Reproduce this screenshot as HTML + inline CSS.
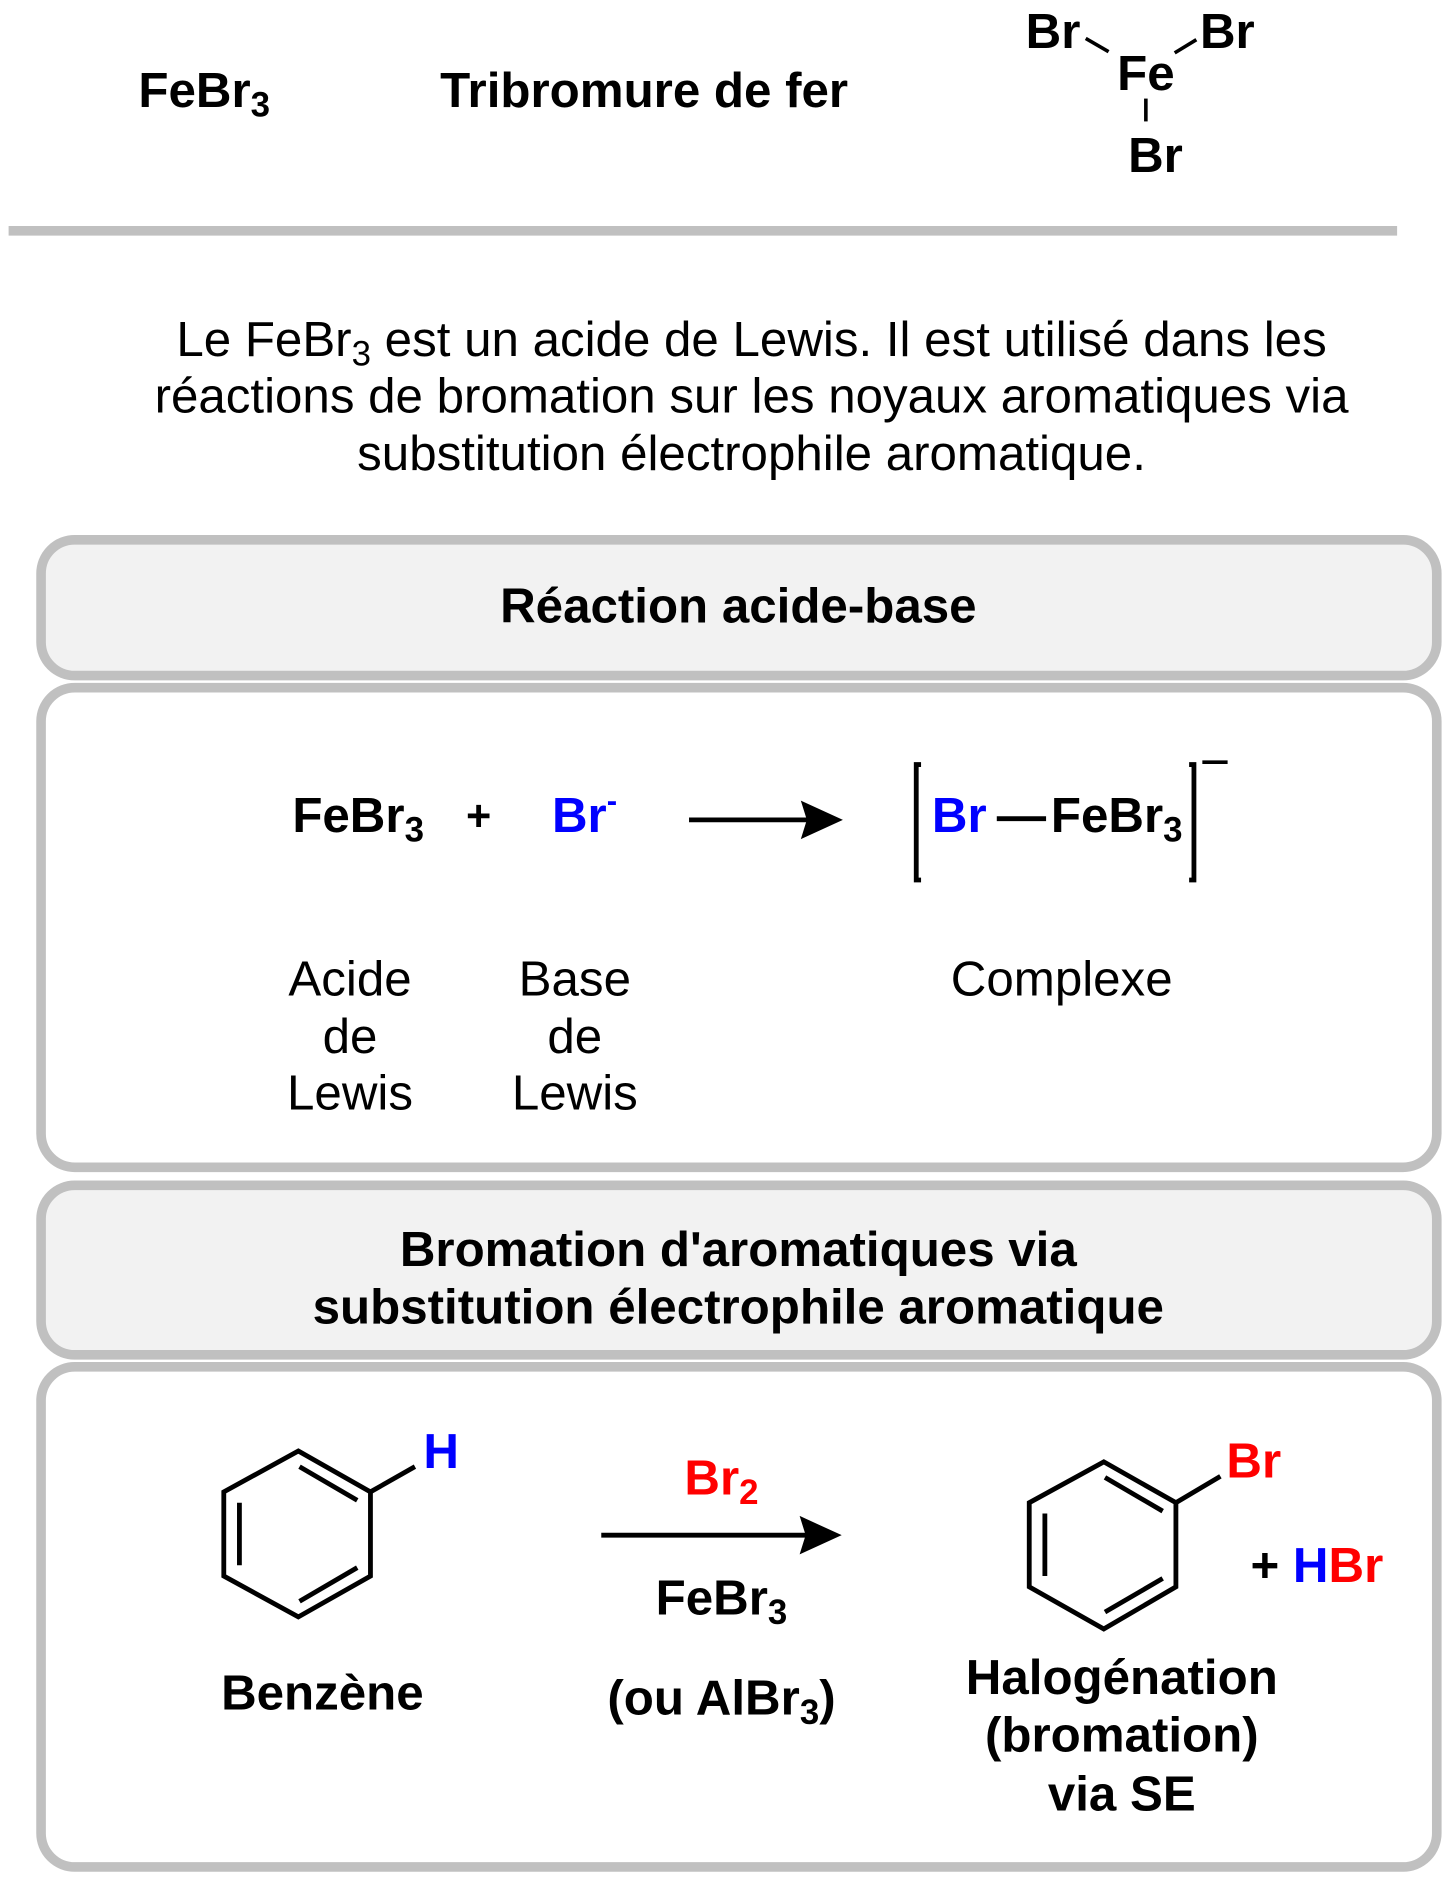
<!DOCTYPE html>
<html><head><meta charset="utf-8"><style>
html,body{margin:0;padding:0;background:#fff}
svg{display:block}
text{font-family:"Liberation Sans",Arial,sans-serif}
.b{font-weight:bold}
</style></head><body>
<svg width="1455" height="1885" viewBox="0 0 1210 1568" xmlns="http://www.w3.org/2000/svg">
<!-- top -->
<text x="115" y="89" class="b" font-size="41">FeBr<tspan font-size="29" dy="8">3</tspan></text>
<text x="366" y="89" class="b" font-size="41">Tribromure de fer</text>
<text x="853" y="40" class="b" font-size="41">Br</text>
<text x="998" y="40" class="b" font-size="41">Br</text>
<text x="953" y="75" class="b" font-size="41" text-anchor="middle">Fe</text>
<text x="961" y="143" class="b" font-size="41" text-anchor="middle">Br</text>
<line x1="903" y1="32" x2="922" y2="43" stroke="#000" stroke-width="3"/>
<line x1="977" y1="44" x2="995" y2="33" stroke="#000" stroke-width="3"/>
<line x1="953" y1="82" x2="953" y2="101" stroke="#000" stroke-width="3"/>
<rect x="7" y="188" width="1155" height="8" fill="#c0c0c0"/>
<g font-size="41" text-anchor="middle">
<text x="625" y="296">Le FeBr<tspan font-size="29" dy="8">3</tspan><tspan dy="-8"> est un acide de Lewis. Il est utilisé dans les</tspan></text>
<text x="625" y="343">réactions de bromation sur les noyaux aromatiques via</text>
<text x="625" y="391">substitution électrophile aromatique.</text>
</g>
<!-- boxes -->
<g stroke="#c0c0c0" stroke-width="8">
<rect x="34" y="449" width="1161" height="113" rx="28" fill="#f2f2f2"/>
<rect x="34" y="572" width="1161" height="399" rx="28" fill="#fff"/>
<rect x="34" y="986" width="1161" height="141" rx="28" fill="#f2f2f2"/>
<rect x="34" y="1137" width="1161" height="416" rx="28" fill="#fff"/>
</g>
<text x="614" y="518" class="b" font-size="41" text-anchor="middle">Réaction acide-base</text>
<!-- reaction 1 -->
<text x="243" y="692" class="b" font-size="41">FeBr<tspan font-size="29" dy="8">3</tspan></text>
<text x="398" y="691" class="b" font-size="36" text-anchor="middle">+</text>
<text x="459" y="692" class="b" font-size="41" fill="#0000ff">Br<tspan font-size="26" dy="-17">-</tspan></text>
<line x1="573" y1="682" x2="680" y2="682" stroke="#000" stroke-width="4"/>
<path d="M666,666 L701,682 L666,698 L671,682 Z" fill="#000"/>
<path d="M766,636 L762,636 L762,732 L766,732" fill="none" stroke="#000" stroke-width="4"/>
<text x="775" y="692" class="b" font-size="41" fill="#0000ff">Br</text>
<line x1="829" y1="681" x2="870" y2="681" stroke="#000" stroke-width="4"/>
<text x="874" y="692" class="b" font-size="41">FeBr<tspan font-size="29" dy="8">3</tspan></text>
<path d="M989,636 L993,636 L993,732 L989,732" fill="none" stroke="#000" stroke-width="4"/>
<line x1="1000" y1="634" x2="1021" y2="634" stroke="#000" stroke-width="3"/>
<g font-size="41" text-anchor="middle">
<text x="291" y="828">Acide</text><text x="291" y="876">de</text><text x="291" y="923">Lewis</text>
<text x="478" y="828">Base</text><text x="478" y="876">de</text><text x="478" y="923">Lewis</text>
<text x="883" y="828">Complexe</text>
</g>
<g class="b" font-size="41" text-anchor="middle">
<text x="614" y="1053">Bromation d'aromatiques via</text>
<text x="614" y="1101">substitution électrophile aromatique</text>
</g>
<!-- benzene 1 -->
<g stroke="#000" stroke-width="4" fill="none">
<polygon points="248,1207 308,1241 308,1311 248,1345 186,1311 186,1241"/>
<line x1="249" y1="1220" x2="297" y2="1248"/>
<line x1="297" y1="1304" x2="249" y2="1332"/>
<line x1="199" y1="1250" x2="199" y2="1302"/>
<line x1="308" y1="1241" x2="345" y2="1220"/>
</g>
<text x="352" y="1221" class="b" font-size="41" fill="#0000ff">H</text>
<text x="268" y="1422" class="b" font-size="41" text-anchor="middle">Benzène</text>
<!-- arrow 2 -->
<line x1="500" y1="1277" x2="680" y2="1277" stroke="#000" stroke-width="4"/>
<path d="M665,1261 L700,1277 L665,1293 L670,1277 Z" fill="#000"/>
<text x="600" y="1243" class="b" font-size="41" fill="#ff0000" text-anchor="middle">Br<tspan font-size="29" dy="8">2</tspan></text>
<text x="600" y="1343" class="b" font-size="41" text-anchor="middle">FeBr<tspan font-size="29" dy="8">3</tspan></text>
<text x="600" y="1426" class="b" font-size="41" text-anchor="middle">(ou AlBr<tspan font-size="29" dy="8">3</tspan><tspan dy="-8">)</tspan></text>
<!-- benzene 2 -->
<g stroke="#000" stroke-width="4" fill="none">
<polygon points="918,1216 978,1250 978,1320 918,1355 856,1320 856,1250"/>
<line x1="919" y1="1229" x2="967" y2="1257"/>
<line x1="967" y1="1313" x2="919" y2="1341"/>
<line x1="869" y1="1259" x2="869" y2="1311"/>
<line x1="978" y1="1250" x2="1015" y2="1228"/>
</g>
<text x="1020" y="1229" class="b" font-size="41" fill="#ff0000">Br</text>
<text x="1040" y="1316" class="b" font-size="41">+ <tspan fill="#0000ff">H</tspan><tspan fill="#ff0000">Br</tspan></text>
<g class="b" font-size="41" text-anchor="middle">
<text x="933" y="1409">Halogénation</text>
<text x="933" y="1457">(bromation)</text>
<text x="933" y="1506">via SE</text>
</g>
</svg>
</body></html>
